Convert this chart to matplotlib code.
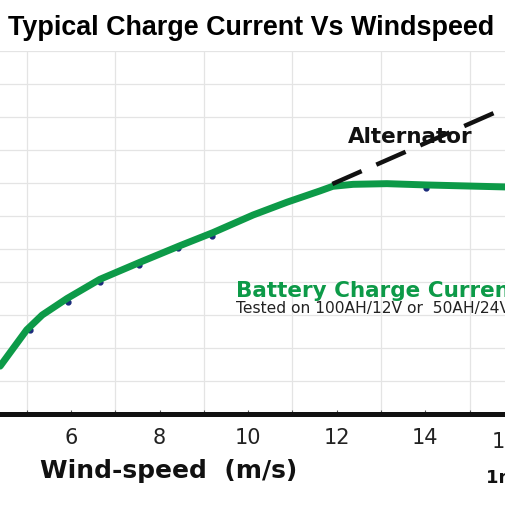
import matplotlib
matplotlib.use("Agg")
import matplotlib.pyplot as plt
import matplotlib.transforms as mtransforms
import numpy as np

W = H = 506
DPI = 100

# ---- data ----
wind_speed = [4.40, 5.00, 5.35, 5.91, 6.65, 7.56, 8.46, 9.21, 10.11,
              10.88, 11.62, 11.91, 12.37, 13.13, 14.04, 15.82]
charge_current = [1.45, 2.55, 3.00, 3.50, 4.08, 4.60, 5.10, 5.50, 6.03,
                  6.42, 6.76, 6.90, 6.96, 6.98, 6.94, 6.88]
point_speed = [5.07, 5.93, 6.65, 7.53, 8.42, 9.18, 14.01]
point_current = [2.55, 3.40, 4.00, 4.52, 5.02, 5.40, 6.86]
alt_speed = [11.90, 15.80]
alt_current = [6.97, 9.27]
xticks = [6, 8, 10, 12, 14]
xtick_labels = ["6", "8", "10", "12", "14"]
edge_tick = 16
edge_tick_label = "16"

GREEN = "#0d9a48"

fig = plt.figure(figsize=(W / DPI, H / DPI), dpi=DPI)
ax = fig.add_axes([0, 1 - 415 / H, 1, 363 / H])

# grid
ax.set_xticks(np.arange(4, 17, 1), minor=True)
ax.set_yticks(np.arange(0, 12, 1), minor=True)
ax.grid(True, which="minor", color="#e4e4e4", linewidth=0.9)
ax.set_yticks([])
ax.set_xticks(xticks)
ax.set_xticklabels(xtick_labels)
ax.set_xlim(4.397, 15.82)
ax.set_ylim(0, 11)
ax.tick_params(axis="x", which="both", direction="in", length=3, width=0.8,
               color="#555555", pad=9, labelsize=15, labelcolor="#222222")
ax.tick_params(axis="y", which="both", length=0)
# label of the tick just past the right edge (partly visible)
trans = mtransforms.blended_transform_factory(ax.transData, ax.transAxes)
ax.text(edge_tick, 0, edge_tick_label, fontsize=15, color="#222222",
        ha="center", va="top", clip_on=False, family="DejaVu Sans",
        transform=trans + mtransforms.ScaledTranslation(-6.5 / 72, -12 / 72,
                                                        fig.dpi_scale_trans))

for s in ["top", "left", "right"]:
    ax.spines[s].set_visible(False)
ax.spines["bottom"].set_linewidth(3.6)
ax.spines["bottom"].set_color("#111111")
ax.spines["bottom"].set_zorder(5)

# measured points (small dark dots under the curve)
ax.plot(point_speed, point_current, "o", color="#1a2a7a", markersize=3.5, zorder=2)
# battery charge current curve
ax.plot(wind_speed, charge_current, color=GREEN, linewidth=5.0,
        solid_capstyle="round", solid_joinstyle="round", zorder=3)
# alternator line
ax.plot(alt_speed, alt_current, color="#111111", linewidth=3.2,
        linestyle=(0, (7.2, 3.6)), dash_capstyle="butt", zorder=3)

# ---- texts ----
def fx(px):
    return px / W

def fy(py):
    return 1 - py / H

fig.text(fx(251), fy(35), "Typical Charge Current Vs Windspeed",
         family="Liberation Sans", weight="bold", fontsize=19.4, ha="center",
         va="baseline", color="#000000")
fig.text(fx(348), fy(143), "Alternator", family="DejaVu Sans", weight="bold",
         fontsize=15.5, ha="left", va="baseline", color="#111111")
fig.text(fx(236), fy(297), "Battery Charge Current", family="DejaVu Sans",
         weight="bold", fontsize=15.5, ha="left", va="baseline", color=GREEN)
fig.text(fx(236), fy(313), "Tested on 100AH/12V or  50AH/24V Battery",
         family="DejaVu Sans", fontsize=11.2, ha="left", va="baseline",
         color="#222222")
fig.text(fx(297), fy(478), "Wind-speed  (m/s)", family="DejaVu Sans",
         weight="bold", fontsize=18, ha="right", va="baseline", color="#111111")
fig.text(fx(486), fy(483), "1m/s = 2.24mph", family="DejaVu Sans",
         weight="bold", fontsize=13, ha="left", va="baseline", color="#111111")

fig.savefig("out.png", dpi=DPI)
